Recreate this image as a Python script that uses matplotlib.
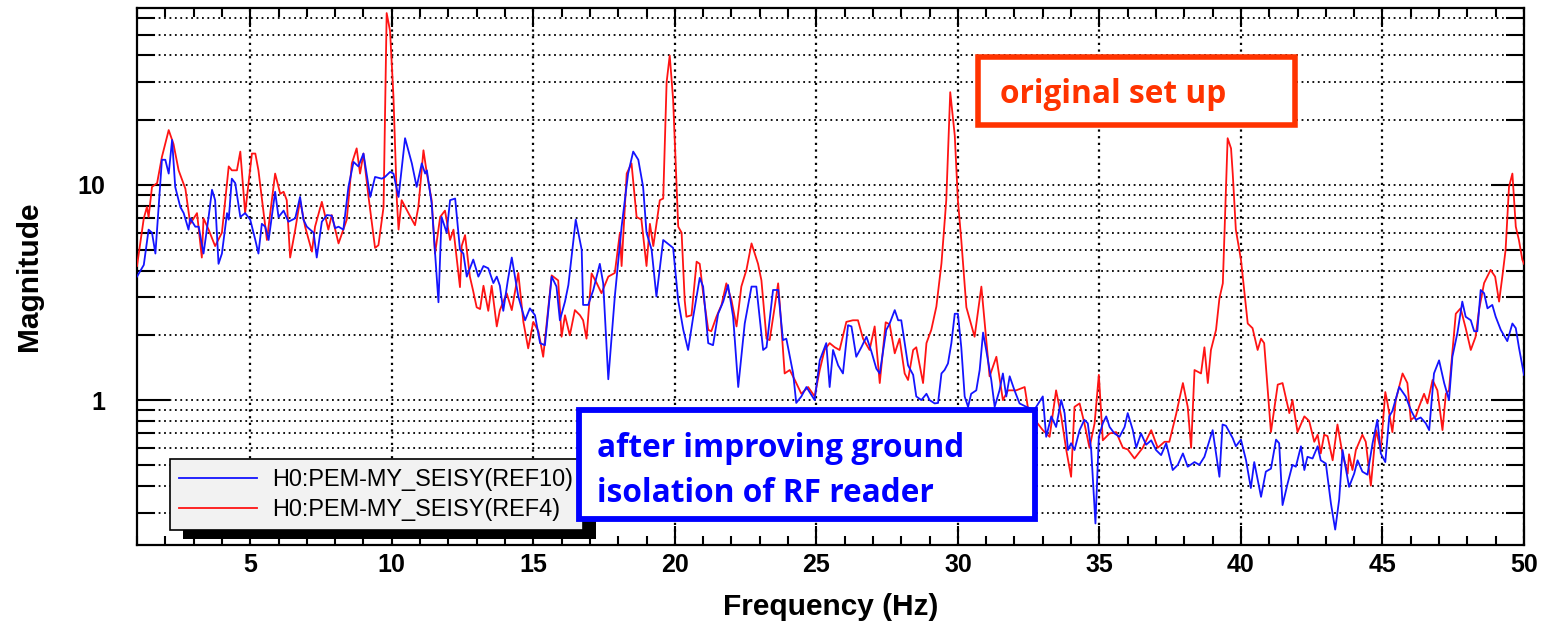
import numpy as np
import matplotlib
matplotlib.use('Agg')
import matplotlib.pyplot as plt
from matplotlib.ticker import LogLocator, NullFormatter, MultipleLocator, FuncFormatter
from matplotlib.patches import Rectangle
from matplotlib.transforms import IdentityTransform

plt.rcParams['font.family'] = ['Liberation Sans', 'DejaVu Sans']
plt.rcParams['font.weight'] = 'bold'

# original set up (REF4), red trace
ref4_freq = [
    1.0, 1.24, 1.35, 1.41, 1.53, 1.71, 1.88, 2.12, 2.29, 2.47,
    2.71, 2.88, 3.12, 3.29, 3.35, 3.53, 3.76, 4.0, 4.24, 4.35,
    4.53, 4.65, 4.82, 5.06, 5.18, 5.29, 5.59, 5.88, 6.06, 6.18,
    6.29, 6.41, 6.59, 6.76, 6.94, 7.18, 7.29, 7.53, 7.76, 7.88,
    8.12, 8.41, 8.59, 8.76, 8.88, 9.0, 9.18, 9.41, 9.53, 9.71,
    9.82, 9.94, 10.06, 10.18, 10.24, 10.35, 10.59, 10.82, 10.94, 11.12,
    11.24, 11.41, 11.53, 11.71, 11.88, 12.06, 12.18, 12.41, 12.47, 12.59,
    12.76, 12.88, 13.0, 13.12, 13.24, 13.41, 13.53, 13.71, 13.82, 14.06,
    14.24, 14.47, 14.65, 14.82, 15.0, 15.18, 15.35, 15.65, 15.88, 16.0,
    16.12, 16.29, 16.47, 16.65, 16.76, 16.88, 17.06, 17.24, 17.41, 17.65,
    17.88, 18.06, 18.12, 18.3, 18.47, 18.65, 18.82, 19.0, 19.12, 19.24,
    19.47, 19.59, 19.71, 19.82, 19.94, 20.12, 20.24, 20.35, 20.41, 20.59,
    20.77, 20.88, 21.0, 21.18, 21.29, 21.47, 21.65, 21.82, 22.0, 22.18,
    22.35, 22.53, 22.71, 22.94, 23.06, 23.24, 23.35, 23.53, 23.65, 23.71,
    23.88, 24.06, 24.24, 24.47, 24.71, 24.94, 25.12, 25.29, 25.47, 25.65,
    25.82, 26.06, 26.29, 26.47, 26.65, 26.88, 27.06, 27.24, 27.45, 27.59,
    27.77, 27.94, 28.12, 28.24, 28.42, 28.53, 28.77, 28.89, 29.06, 29.24,
    29.42, 29.59, 29.73, 29.89, 30.0, 30.12, 30.3, 30.59, 30.83, 31.12,
    31.36, 31.59, 31.77, 32.06, 32.36, 32.47, 32.75, 33.0, 33.24, 33.47,
    33.65, 33.83, 34.0, 34.12, 34.3, 34.47, 34.65, 34.83, 34.98, 35.12,
    35.36, 35.59, 35.83, 36.0, 36.24, 36.53, 36.83, 37.06, 37.3, 37.47,
    37.71, 37.95, 38.12, 38.24, 38.36, 38.59, 38.71, 38.83, 38.94, 39.12,
    39.24, 39.36, 39.53, 39.65, 39.71, 39.82, 40.0, 40.24, 40.41, 40.59,
    40.71, 40.82, 41.06, 41.3, 41.47, 41.71, 41.82, 42.0, 42.24, 42.41,
    42.59, 42.71, 42.82, 42.94, 43.06, 43.24, 43.41, 43.59, 43.77, 43.82,
    43.94, 44.06, 44.29, 44.41, 44.59, 44.77, 44.94, 45.1, 45.18, 45.35,
    45.47, 45.71, 45.88, 46.0, 46.18, 46.29, 46.47, 46.59, 46.77, 46.94,
    47.12, 47.24, 47.35, 47.59, 47.76, 47.94, 48.12, 48.29, 48.41, 48.59,
    48.82, 48.98, 49.12, 49.24, 49.35, 49.47, 49.59, 49.71, 49.82, 49.94,
    50.0,
]
ref4_mag = [
    4.2, 7.0, 7.9, 7.1, 9.8, 10.2, 13.5, 18.0, 15.5, 11.7,
    9.6, 6.6, 7.4, 4.6, 7.0, 6.2, 5.2, 6.0, 12.2, 11.7,
    11.7, 14.3, 7.4, 14.0, 14.0, 11.7, 5.55, 11.3, 9.1, 9.3,
    8.5, 4.6, 6.2, 8.5, 6.4, 4.9, 6.4, 8.35, 6.2, 7.25,
    5.35, 6.9, 12.6, 14.8, 11.3, 14.0, 8.8, 5.1, 5.25, 7.9,
    63.0, 52.0, 25.7, 8.5, 6.2, 8.5, 7.4, 6.5, 7.9, 14.5,
    11.3, 8.5, 4.8, 7.1, 7.6, 5.55, 6.2, 3.35, 5.2, 5.85,
    3.75, 3.2, 2.7, 2.65, 3.4, 2.6, 3.4, 2.2, 2.62, 3.14,
    2.62, 3.9, 2.31, 1.74, 2.31, 2.09, 1.59, 3.8, 3.6, 1.97,
    2.48, 2.0, 2.62, 2.48, 2.35, 1.93, 3.88, 3.5, 3.14, 3.75,
    3.9, 6.0, 4.2, 11.3, 12.6, 7.1, 6.9, 4.2, 6.6, 5.2,
    8.5, 8.65, 30.0, 40.0, 25.0, 6.4, 6.0, 2.9, 2.44, 2.48,
    4.4, 4.3, 3.14, 2.12, 2.09, 2.44, 2.77, 3.49, 2.92, 2.2,
    3.37, 4.03, 5.35, 4.3, 3.6, 1.93, 1.9, 2.72, 3.49, 2.77,
    1.33, 1.38, 1.24, 1.07, 1.15, 1.04, 1.38, 1.71, 1.84, 1.76,
    1.71, 2.31, 2.35, 2.35, 1.93, 1.71, 2.2, 1.2, 2.3, 2.25,
    1.65, 1.93, 1.33, 1.24, 1.71, 1.76, 1.2, 1.84, 2.12, 2.72,
    4.32, 8.5, 27.0, 17.0, 8.5, 5.55, 2.7, 1.97, 3.37, 1.29,
    1.59, 1.0, 1.11, 1.11, 1.15, 0.93, 0.8, 0.725, 0.675, 1.11,
    0.84, 0.586, 0.44, 0.93, 0.965, 0.78, 0.6, 0.78, 1.31, 0.65,
    0.7, 0.71, 0.6, 0.59, 0.535, 0.6, 0.725, 0.6, 0.64, 0.64,
    0.86, 1.2, 0.93, 0.6, 1.38, 1.33, 1.76, 1.2, 1.71, 2.12,
    2.97, 3.49, 16.5, 14.8, 11.3, 6.2, 4.5, 2.27, 2.16, 1.71,
    1.93, 1.84, 0.71, 1.18, 1.2, 0.87, 1.0, 0.71, 0.84, 0.8,
    0.64, 0.69, 0.565, 0.69, 0.68, 0.525, 0.77, 0.56, 0.455, 0.56,
    0.473, 0.586, 0.69, 0.64, 0.40, 0.725, 0.586, 1.09, 0.965, 0.71,
    1.0, 1.33, 1.2, 0.81, 0.84, 0.93, 1.07, 0.965, 1.24, 1.11,
    0.725, 1.07, 1.11, 2.52, 2.67, 2.16, 1.71, 1.97, 2.62, 3.5,
    4.03, 3.75, 2.87, 3.8, 5.0, 9.8, 11.3, 6.4, 5.55, 4.5,
    4.3,
]

# after improving ground isolation (REF10), blue trace
ref10_freq = [
    1.0, 1.24, 1.41, 1.53, 1.65, 1.88, 2.0, 2.12, 2.24, 2.35,
    2.53, 2.65, 2.82, 2.88, 3.06, 3.18, 3.35, 3.53, 3.65, 3.76,
    3.88, 4.0, 4.18, 4.24, 4.35, 4.47, 4.65, 4.82, 5.0, 5.18,
    5.29, 5.41, 5.53, 5.65, 5.88, 6.0, 6.18, 6.35, 6.59, 6.76,
    6.88, 7.0, 7.24, 7.35, 7.53, 7.71, 7.88, 8.0, 8.12, 8.29,
    8.47, 8.65, 8.82, 9.0, 9.24, 9.41, 9.65, 9.76, 9.94, 10.06,
    10.24, 10.47, 10.71, 10.88, 11.06, 11.18, 11.24, 11.41, 11.65, 11.76,
    11.94, 12.06, 12.24, 12.41, 12.53, 12.65, 12.88, 13.06, 13.24, 13.41,
    13.59, 13.71, 13.82, 13.94, 14.1, 14.24, 14.47, 14.71, 14.88, 15.06,
    15.24, 15.41, 15.65, 15.82, 15.94, 16.12, 16.24, 16.5, 16.71, 16.76,
    16.94, 17.12, 17.35, 17.47, 17.65, 17.88, 18.12, 18.35, 18.53, 18.71,
    18.88, 19.0, 19.18, 19.35, 19.59, 19.82, 19.94, 20.12, 20.3, 20.47,
    20.65, 20.88, 21.0, 21.18, 21.35, 21.53, 21.71, 21.88, 22.06, 22.24,
    22.47, 22.71, 22.88, 23.12, 23.24, 23.47, 23.65, 23.82, 23.94, 24.18,
    24.29, 24.47, 24.65, 24.94, 25.12, 25.35, 25.47, 25.59, 25.77, 25.94,
    26.12, 26.24, 26.41, 26.59, 26.77, 26.94, 27.12, 27.24, 27.47, 27.59,
    27.77, 27.89, 28.0, 28.12, 28.24, 28.42, 28.53, 28.71, 28.89, 29.0,
    29.18, 29.3, 29.42, 29.53, 29.65, 29.77, 29.89, 30.0, 30.12, 30.24,
    30.36, 30.47, 30.65, 30.77, 30.89, 31.0, 31.18, 31.3, 31.47, 31.59,
    31.71, 31.83, 32.0, 32.18, 32.42, 32.7, 33.0, 33.12, 33.3, 33.47,
    33.65, 33.77, 33.89, 34.0, 34.12, 34.3, 34.47, 34.59, 34.71, 34.86,
    34.98, 35.12, 35.24, 35.36, 35.53, 35.71, 35.89, 36.0, 36.18, 36.3,
    36.47, 36.65, 36.83, 37.0, 37.18, 37.36, 37.59, 37.77, 37.95, 38.12,
    38.36, 38.53, 38.71, 39.0, 39.24, 39.35, 39.47, 39.71, 39.82, 40.0,
    40.18, 40.35, 40.47, 40.71, 40.88, 41.06, 41.24, 41.35, 41.47, 41.65,
    41.82, 41.94, 42.12, 42.24, 42.35, 42.53, 42.71, 42.82, 43.0, 43.18,
    43.33, 43.47, 43.59, 43.82, 44.0, 44.12, 44.29, 44.47, 44.65, 44.82,
    44.94, 45.1, 45.24, 45.35, 45.59, 45.82, 46.0, 46.18, 46.35, 46.53,
    46.65, 46.82, 47.0, 47.18, 47.35, 47.47, 47.65, 47.82, 47.94, 48.12,
    48.24, 48.35, 48.47, 48.59, 48.71, 48.88, 49.0, 49.18, 49.41, 49.59,
    49.71, 49.82, 50.0,
]
ref10_mag = [
    3.75, 4.25, 6.2, 6.0, 4.8, 13.1, 13.1, 11.3, 16.2, 9.8,
    7.9, 7.4, 6.2, 7.0, 6.4, 6.4, 4.8, 7.1, 9.5, 8.5,
    4.3, 4.8, 7.4, 6.9, 10.7, 10.2, 7.1, 7.4, 6.9, 5.55,
    4.8, 6.6, 6.4, 5.55, 9.3, 7.1, 7.6, 6.75, 7.0, 8.8,
    6.9, 6.4, 6.0, 4.6, 6.75, 7.25, 7.2, 6.3, 6.4, 6.2,
    9.8, 12.8, 12.2, 14.0, 8.8, 10.9, 10.7, 10.9, 11.5, 11.3,
    8.8, 16.5, 12.6, 9.8, 12.6, 11.3, 11.7, 8.2, 2.85, 7.1,
    6.0, 8.5, 8.65, 5.0, 4.8, 3.75, 4.5, 3.75, 4.2, 4.1,
    3.5, 3.75, 3.4, 2.6, 3.6, 4.6, 3.03, 2.35, 2.67, 2.48,
    1.84, 1.8, 3.75, 3.37, 2.35, 2.87, 3.43, 6.9, 5.0, 2.77,
    2.77, 3.25, 4.3, 3.49, 1.25, 3.03, 6.4, 11.3, 14.3, 13.1,
    9.8, 6.0, 5.0, 3.03, 5.55, 5.25, 5.1, 2.9, 2.12, 1.71,
    2.44, 3.7, 3.37, 1.84, 1.8, 2.52, 2.87, 3.43, 2.44, 1.15,
    2.27, 3.37, 3.37, 1.71, 1.76, 3.25, 3.25, 1.9, 1.93, 1.33,
    0.97, 1.04, 1.15, 1.0, 1.53, 1.84, 1.15, 1.71, 1.45, 1.33,
    2.23, 2.2, 1.59, 1.76, 1.97, 1.69, 1.40, 1.33, 2.12, 2.27,
    2.62, 2.35, 2.35, 1.84, 1.45, 1.31, 1.04, 1.0, 1.07, 1.0,
    0.965, 0.97, 1.33, 1.38, 1.48, 1.84, 2.52, 2.52, 1.76, 1.04,
    0.93, 1.07, 1.11, 1.38, 2.06, 1.71, 1.24, 0.93, 1.11, 1.33,
    1.04, 1.29, 1.11, 0.965, 0.93, 0.9, 1.04, 0.675, 0.84, 0.75,
    1.0, 0.87, 0.586, 0.63, 0.586, 0.725, 0.81, 0.78, 0.586, 0.267,
    0.675, 0.78, 0.84, 0.75, 0.70, 0.675, 0.75, 0.87, 0.725, 0.6,
    0.7, 0.62, 0.65, 0.586, 0.555, 0.63, 0.473, 0.5, 0.565, 0.49,
    0.515, 0.5, 0.545, 0.725, 0.44, 0.77, 0.76, 0.665, 0.61, 0.655,
    0.525, 0.39, 0.515, 0.355, 0.465, 0.48, 0.655, 0.63, 0.325, 0.41,
    0.5, 0.49, 0.61, 0.473, 0.545, 0.535, 0.61, 0.525, 0.507, 0.33,
    0.25, 0.345, 0.586, 0.395, 0.455, 0.525, 0.465, 0.45, 0.63, 0.81,
    0.565, 0.515, 0.84, 0.89, 1.15, 1.04, 0.9, 0.81, 0.83, 0.78,
    0.725, 1.33, 1.53, 1.2, 1.0, 1.59, 2.06, 2.87, 2.44, 2.35,
    2.09, 2.09, 3.25, 3.14, 2.67, 2.77, 2.44, 2.12, 1.88, 2.27,
    2.16, 1.76, 1.31,
]

legend_labels = ['H0:PEM-MY_SEISY(REF10)', 'H0:PEM-MY_SEISY(REF4)']
note_before = 'original set up'
note_after = ['after improving ground', 'isolation of RF reader']

fig = plt.figure(figsize=(15.47, 6.33), dpi=100)
ax = fig.add_axes([137 / 1547, 88 / 633, 1387 / 1547, 537 / 633])

red_line, = ax.plot(ref4_freq, ref4_mag, color='#ff1414', lw=1.3, zorder=3)
blue_line, = ax.plot(ref10_freq, ref10_mag, color='#1414ff', lw=1.3, zorder=3)

ax.set_yscale('log')
ax.set_xlim(1, 50)
ax.set_ylim(0.212, 66.5)

ax.xaxis.set_major_locator(MultipleLocator(5))
ax.xaxis.set_minor_locator(MultipleLocator(1))
ax.yaxis.set_major_locator(LogLocator(base=10))
ax.yaxis.set_minor_locator(LogLocator(base=10, subs=np.arange(2, 10)))
ax.yaxis.set_major_formatter(FuncFormatter(lambda v, p: '%g' % v))
ax.yaxis.set_minor_formatter(NullFormatter())

dots = (0, (1, 2))
ax.grid(True, which='major', axis='x', color='k', ls=dots, lw=1.6)
ax.grid(True, which='both', axis='y', color='k', ls=dots, lw=1.3)

ax.tick_params(which='both', direction='in', top=True, right=True, width=1.5, color='k')
ax.tick_params(axis='x', which='major', length=14, labelsize=18, pad=6)
ax.tick_params(axis='x', which='minor', length=6.5)
ax.tick_params(axis='y', which='major', length=24, labelsize=18, pad=23)
ax.tick_params(axis='y', which='minor', length=13)
for sp in ax.spines.values():
    sp.set_linewidth(1.6)

ax.set_xlabel('Frequency (Hz)', fontsize=21.5, fontweight='bold')
ax.set_ylabel('Magnitude', fontsize=21.5, fontweight='bold')
ax.xaxis.set_label_coords(0.5, -0.09)
ax.yaxis.set_label_coords(-0.068, 0.5)

leg = ax.legend([blue_line, red_line], legend_labels, loc='upper left',
                bbox_to_anchor=(0.0238, 0.160), borderaxespad=0,
                prop={'size': 16.9, 'weight': 'normal'}, fancybox=False,
                edgecolor='k', facecolor='#f2f2f2', framealpha=1,
                handlelength=3.3, handletextpad=0.65, borderpad=0.4,
                labelspacing=0.28)
leg.get_frame().set_linewidth(1.2)
leg.set_zorder(5)

# black drop shadow under the legend
fig.canvas.draw()
bb = leg.get_frame().get_window_extent()
shadow = Rectangle((bb.x0 + 13, bb.y0 - 9), bb.width, bb.height,
                   transform=IdentityTransform(), fc='k', ec='none', zorder=4.9)
ax.add_artist(shadow)

# annotation boxes
note_font = dict(fontsize=22.8, fontfamily='Open Sans', fontweight='bold',
                 ha='left', va='baseline', zorder=7)

ax.add_artist(Rectangle((0.3187, 0.0484), 0.3288, 0.203, transform=ax.transAxes,
                        fc='white', ec='#0000ff', lw=4.2, zorder=6, clip_on=False))
ax.text(0.3317, 0.1639, note_after[0], transform=ax.transAxes, color='#0000ff', **note_font)
ax.text(0.3317, 0.0801, note_after[1], transform=ax.transAxes, color='#0000ff', **note_font)

ax.add_artist(Rectangle((0.606, 0.783), 0.229, 0.125, transform=ax.transAxes,
                        fc='white', ec='#ff3300', lw=4.0, zorder=6, clip_on=False))
ax.text(0.6225, 0.823, note_before, transform=ax.transAxes, color='#ff3300', **note_font)

fig.savefig('out.png', dpi=100)
